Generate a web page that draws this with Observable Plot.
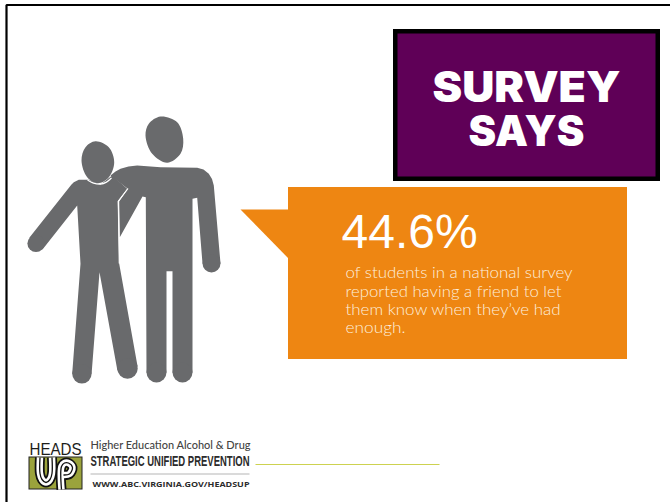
<!DOCTYPE html>
<html>
<head>
<meta charset="utf-8">
<script src="https://cdn.jsdelivr.net/npm/d3@7"></script>
<script src="https://cdn.jsdelivr.net/npm/@observablehq/plot@0.6"></script>
<style>
html,body{margin:0;padding:0;background:#fff}
svg{display:block}
</style>
</head>
<body>
<div id="chart"></div>
<script>
const statValue = "44.6%";
const statLines = [
  "of students in a national survey",
  "reported having a friend to let",
  "them know when they\u2019ve had",
  "enough."
];
const statBaselines = [277, 296, 314, 332];
const badgeWords = ["SURVEY", "SAYS"];
const badgeBaselines = [101, 145];
const fittedWidths = {
  "SURVEY":188, "SAYS":116,
  "of students in a national survey":227,
  "reported having a friend to let":216,
  "them know when they\u2019ve had":215,
  "enough.":60,
  "HEADS":52,
  "Higher Education Alcohol & Drug":160,
  "STRATEGIC UNIFIED PREVENTION":159,
  "WWW.ABC.VIRGINIA.GOV/HEADSUP":157
};

const frameLine = [[6,502],[6,4.5],[670,4.5]];
const badgeOuter = {x1:393,x2:660,y1:29,y2:181};
const badgeInner = {x1:397.5,x2:655.5,y1:33.5,y2:176.5};
const calloutBox = {x1:288,x2:627,y1:187,y2:359};
const calloutTail = [[240,209],[288,209],[288,258]];

const bigHead = [[160,116],[176.7,121.7],[182.7,138.3],[180,153.3],[166.7,162.3],[151.7,153.3],[145,135],[148.3,123.3]];
const smallHead = [[95,140.7],[108.3,146.7],[113.7,161.7],[108.3,176.7],[97.3,182.7],[86.7,176.7],[81,160],[85,146.7]];
const bigBody = [[110,175],[115,171],[120,168.3],[128,166],[136.7,165],[160,166.7],[196.7,167.3],[203,169],[208.3,173.3],[211.5,178.5],[213.3,185],[220,263],[202,263],[196.7,197.3],[192,198.3],[192,372],[172,372],[172,270.7],[166,270.7],[166,372],[146,372],[145.3,196.7],[142,196],[119.3,236.7],[118.7,200.7],[127.3,188.3]];
const smallBody = [[71,184],[73.3,181.7],[78.3,179.3],[88.3,179.3],[100,184],[111.7,175],[126.7,188.3],[117.3,200.7],[118.7,263.3],[137.1,366],[116.9,370],[99,271.7],[91.1,373.3],[71.7,373.3],[80,263.3],[76.7,205],[42,249],[29,237]];
const neckGap = [[87,179.5],[93,182.6],[100,183.6],[106,181.6],[111,177.5]];
const torsoGap = [[127.5,188],[117.8,200.8],[118.8,263]];
const limbEndX = [156,182,211,81.4,127,35.5];
const limbEndY = [372,372,263,373.3,368,243];
const limbEndR = [10,10,9,9.7,10.2,8.6];

const logoBox = {x1:29,x2:82,y1:457,y2:489};
const logoU = [[39.5,457],[39.5,473],[41.5,479],[45.5,482],[49.5,479],[51.5,473],[51.5,457]];
const logoP = [[61,489],[61,466],[64,462.5],[68,462.5],[72,467],[69,473.5],[63,474.5]];
const logoRule = [[90,473.5],[249,473.5]];
const accentRule = [[255,464],[439,464]];

const ORANGE = "#ee8612", PURPLE = "#5f0057", GREY = "#696a6c", OLIVE = "#9ba33c";
const row = ([x,y]) => ({x,y});
const pts = a => a.map(row);
const LIGHT = "Lato, 'Open Sans', sans-serif";
const SANS = "'Liberation Sans', Arial, sans-serif";

const shape = (a, fill, curve="linear-closed") =>
  Plot.line(pts(a), {x:"x", y:"y", fill, stroke:"none", curve});
const stroke = (a, color, w, curve="linear") =>
  Plot.line(pts(a), {x:"x", y:"y", stroke:color, strokeWidth:w, curve, strokeLinejoin:"miter", strokeLinecap:"butt"});
const label = (txt, x, y, o) =>
  Plot.text([txt], {x:()=>x, y:()=>y, text:d=>d, textAnchor:"start", lineAnchor:"bottom", stroke:null, ...o});

const chart = Plot.plot({
  width:670, height:502, margin:0,
  x:{domain:[0,670], axis:null},
  y:{domain:[502,0], axis:null},
  r:{type:"identity"},
  style:{background:"#fff"},
  marks:[
    stroke(frameLine, "#000", 2.2),
    Plot.rect([badgeOuter], {x1:"x1",x2:"x2",y1:"y1",y2:"y2",fill:"#000"}),
    Plot.rect([badgeInner], {x1:"x1",x2:"x2",y1:"y1",y2:"y2",fill:PURPLE}),
    ...badgeWords.map((w,i)=>label(w,526,badgeBaselines[i],{textAnchor:"middle",fill:"#fff",fontFamily:"Inter, 'Liberation Sans', sans-serif",fontWeight:900,fontSize:42})),

    shape(bigBody, GREY),
    shape(smallBody, GREY),
    shape(bigHead, GREY, "catmull-rom-closed"),
    shape(smallHead, GREY, "catmull-rom-closed"),
    Plot.dot(limbEndX.map((x,i)=>({x,y:limbEndY[i],r:limbEndR[i]})), {x:"x",y:"y",r:"r",fill:GREY,stroke:"none"}),
    stroke(neckGap, "#fff", 1.2, "catmull-rom"),
    stroke(torsoGap, "#fff", 1.2),

    shape(calloutTail, ORANGE),
    Plot.rect([calloutBox], {x1:"x1",x2:"x2",y1:"y1",y2:"y2",fill:ORANGE}),
    label(statValue,341,247,{fill:"#fff",fontFamily:SANS,fontSize:48}),
    ...statLines.map((t,i)=>label(t,345,statBaselines[i],{fill:"#fdeedd",fontFamily:LIGHT,fontWeight:300,fontSize:15.5})),

    label("HEADS",29,454,{fill:"#1d1d1b",fontFamily:SANS,fontSize:17}),
    Plot.rect([logoBox], {x1:"x1",x2:"x2",y1:"y1",y2:"y2",fill:OLIVE,stroke:"#222",strokeWidth:1}),
    stroke(logoU, "#111", 10, "catmull-rom"),
    stroke(logoU, "#fff", 6.5, "catmull-rom"),
    stroke(logoU, "#111", 1.3, "catmull-rom"),
    stroke(logoP, "#111", 10, "catmull-rom"),
    stroke(logoP, "#fff", 6.5, "catmull-rom"),
    stroke(logoP, "#111", 1.3, "catmull-rom"),
    label("Higher Education Alcohol & Drug",90,448,{fill:"#444",fontFamily:"Lato, sans-serif",fontWeight:500,fontSize:10.5}),
    label("STRATEGIC UNIFIED PREVENTION",90,465,{fill:"#2b2b2b",fontFamily:SANS,fontWeight:700,fontSize:15}),
    stroke(logoRule, "#b5b5b5", 1),
    label("WWW.ABC.VIRGINIA.GOV/HEADSUP",92,486,{fill:"#2b2b2b",fontFamily:"'Open Sans', sans-serif",fontWeight:700,fontSize:7.8}),
    stroke(accentRule, "#cdd250", 1.2)
  ]
});
d3.select(chart).selectAll("text").each(function(){
  const w = fittedWidths[this.textContent];
  if (w) { this.setAttribute("textLength", w); this.setAttribute("lengthAdjust", "spacingAndGlyphs"); }
});
document.getElementById("chart").appendChild(chart);
</script>
</body>
</html>
